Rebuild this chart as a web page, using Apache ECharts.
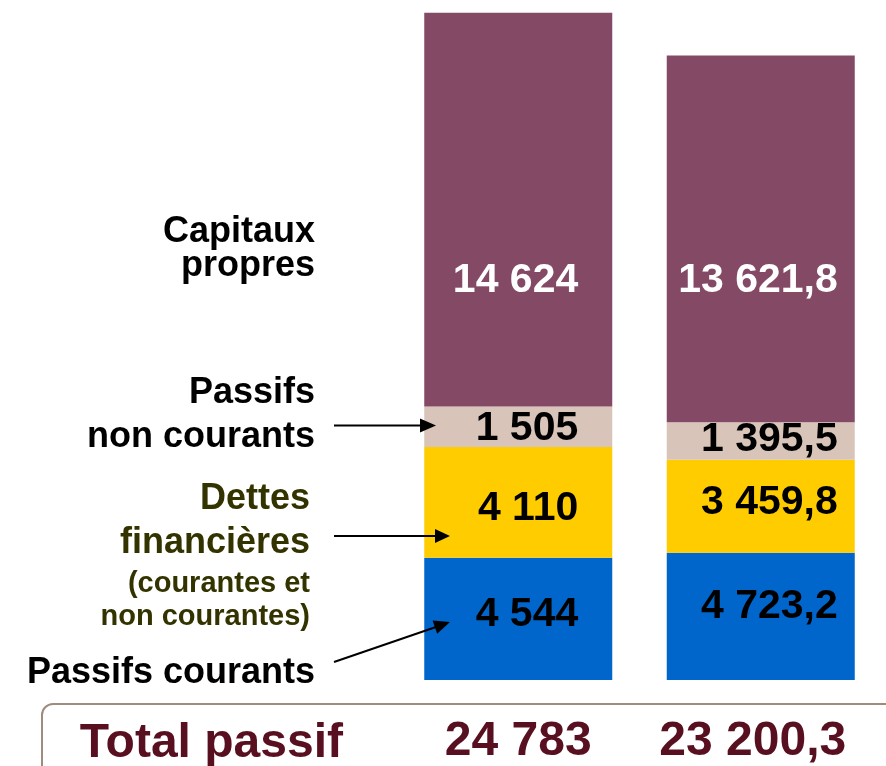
<!DOCTYPE html>
<html>
<head>
<meta charset="utf-8">
<script src="https://cdn.jsdelivr.net/npm/echarts@6/dist/echarts.min.js"></script>
<style>
html,body{margin:0;padding:0;background:#fff;}
#main{width:886px;height:766px;}
</style>
</head>
<body>
<div id="main"></div>
<script>
// ---- data ----
var categories = ['24 783', '23 200,3'];          // totals shown under each bar
var passifsCourants = [4544, 4723.2];
var dettesFinancieres = [4110, 3459.8];
var passifsNonCourants = [1505, 1395.5];
var capitauxPropres = [14624, 13621.8];

var FONT = '"Liberation Sans", Arial, Helvetica, sans-serif';

function fmt(v) {
  var s = Number.isInteger(v) ? String(v) : v.toFixed(1);
  var parts = s.split('.');
  var ip = parts[0].replace(/\B(?=(\d{3})+(?!\d))/g, ' ');
  return parts.length > 1 ? ip + ',' + parts[1] : ip;
}

// label placement (style only)
var labelX = [154, 171];
function build(values, yPcts, color) {
  return values.map(function (v, i) {
    return {
      value: v,
      label: {
        show: true,
        position: [labelX[i], yPcts[i]],
        align: 'right',
        verticalAlign: 'middle',
        color: color,
        fontSize: 41,
        fontWeight: 'bold',
        fontFamily: FONT,
        formatter: function (p) { return fmt(p.value); }
      }
    };
  });
}

function mkSeries(name, values, color, yPcts, labelColor) {
  return {
    name: name,
    type: 'bar',
    stack: 'total',
    barWidth: 188,
    itemStyle: { color: color },
    data: build(values, yPcts, labelColor)
  };
}

function txt(str, x, y, size, color) {
  return {
    type: 'text',
    style: {
      text: str,
      x: x, y: y,
      fill: color,
      font: 'bold ' + size + 'px ' + FONT,
      textAlign: 'right',
      align: 'right',
      textVerticalAlign: 'middle',
      verticalAlign: 'middle'
    },
    z: 10
  };
}
function line(x1, y1, x2, y2) {
  return { type: 'line', shape: { x1: x1, y1: y1, x2: x2, y2: y2 }, style: { stroke: '#000', lineWidth: 2 }, z: 10 };
}
function head(pts) {
  return { type: 'polygon', shape: { points: pts }, style: { fill: '#000' }, z: 10 };
}

var chart = echarts.init(document.getElementById('main'));
chart.setOption({
  animation: false,
  backgroundColor: '#ffffff',
  grid: { left: 397, right: 4, top: 7, bottom: 86 },
  xAxis: {
    type: 'category',
    data: categories,
    axisLine: { show: false },
    axisTick: { show: false },
    axisLabel: {
      interval: 0,
      hideOverlap: false,
      margin: 38,
      color: '#580F1F',
      fontSize: 48,
      fontWeight: 'bold',
      fontFamily: FONT,
      formatter: function (v, i) { return i === 1 ? '{r|' + v + '}' : '{l|' + v + '}'; },
      rich: {
        l: { fontSize: 48, fontWeight: 'bold', fontFamily: FONT, color: '#580F1F', padding: [0, 0, 0, 0] },
        r: { fontSize: 48, fontWeight: 'bold', fontFamily: FONT, color: '#580F1F', padding: [0, 16, 0, 0] }
      }
    }
  },
  yAxis: {
    type: 'value',
    min: 0,
    max: 25000,
    show: false,
    splitLine: { show: false }
  },
  series: [
    mkSeries('Passifs courants', passifsCourants, '#0066CC', ['47%', '42%'], '#000'),
    mkSeries('Dettes financières', dettesFinancieres, '#FFCC00', ['56%', '46%'], '#000'),
    mkSeries('Passifs non courants', passifsNonCourants, '#D8C4B8', ['54%', '46%'], '#000'),
    mkSeries('Capitaux propres', capitauxPropres, '#834965', ['68%', '61.5%'], '#fff')
  ],
  graphic: [
    { type: 'rect', shape: { x: 42, y: 704, width: 900, height: 120, r: [11, 0, 0, 0] },
      style: { fill: 'none', stroke: '#A08C7E', lineWidth: 2 }, z: 1 },
    txt('Total passif', 343, 744, 48, '#580F1F'),
    txt('Capitaux', 315, 232, 36, '#000'),
    txt('propres', 315, 266, 36, '#000'),
    txt('Passifs', 315, 393, 36, '#000'),
    txt('non courants', 315, 437, 36, '#000'),
    txt('Dettes', 310, 499, 36, '#333300'),
    txt('financières', 310, 543, 36, '#333300'),
    txt('(courantes et', 310, 584, 29, '#333300'),
    txt('non courantes)', 310, 617, 29, '#333300'),
    txt('Passifs courants', 315, 673, 36, '#000'),
    line(334, 425.5, 421, 425.5),
    head([[436, 425.5], [420, 418.5], [420, 432.5]]),
    line(334, 536, 436, 536),
    head([[450, 536], [435, 529], [435, 543]]),
    line(334, 662, 436, 627),
    head([[450, 622], [437.2, 633.8], [432.6, 620.6]])
  ]
});
</script>
</body>
</html>
